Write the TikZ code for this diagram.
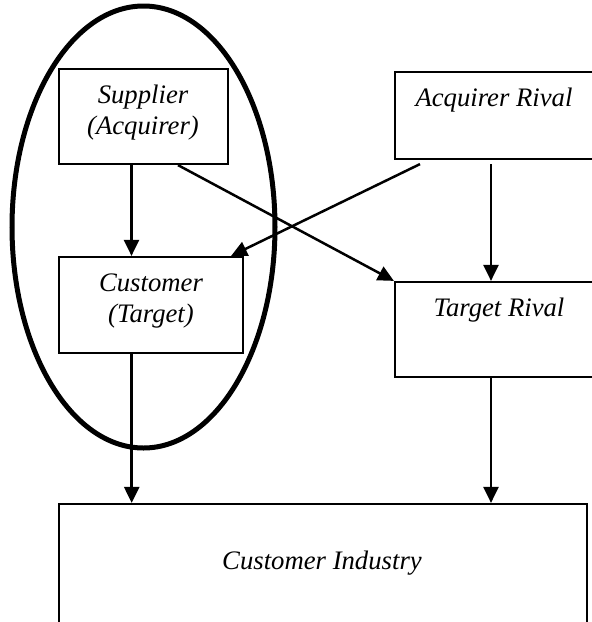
\documentclass[tikz,border=0pt]{standalone}
\usepackage{fontspec}
\setmainfont{Liberation Serif}
\usetikzlibrary{calc}
\usetikzlibrary{arrows.meta}
\tikzset{
    box/.style={draw, line width=2.2pt, inner sep=0pt},
    lbl/.style={font=\fontsize{26.7}{31}\selectfont\itshape, align=center, inner sep=0pt},
    arr/.style={line width=2.5pt, -{Triangle[length=16pt,width=15pt]}}
}
\begin{document}
\begin{tikzpicture}[x=1pt,y=-1pt]
\useasboundingbox (0,0) rectangle (592,622);
% firms and the industry
\foreach \x/\y/\w/\h/\p in {143.5/116.5/169/95/sup, 151/305/184/96/cus, 494.5/115.5/199/87/arv, 494.5/329.5/199/95/trv, 323/572/528/136/ind}{
    \node[box, minimum width=\w pt, minimum height=\h pt] (\p) at (\x,\y) {};
}
\node[lbl] (supT) at (143,112.5) {Supplier\\(Acquirer)};
\node[lbl] (cusT) at (151,301) {Customer\\(Target)};
\node[lbl] (arvT) at (494,100) {Acquirer Rival};
\node[lbl] (trvT) at (499,310) {Target Rival};
\node[lbl] (indT) at (322,563) {Customer Industry};
% merged pair
\draw[line width=5pt] (143.5,227) ellipse [x radius=131.5, y radius=221];
% links
\draw[arr] ([xshift=-12pt]sup.south) -- ([xshift=-12pt]sup.south |- cus.north);
\draw[arr] ([xshift=34.5pt]sup.south) -- (trv.north west);
\draw[arr] ([xshift=-74.5pt,yshift=-4pt]arv.south) -- ([xshift=-13pt]cus.north east);
\draw[arr] ([xshift=-3.5pt,yshift=-4pt]arv.south) -- ([xshift=-3.5pt]arv.south |- trv.north);
\draw[arr] ([xshift=-19.3pt]cus.south) -- ([xshift=-19.3pt]cus.south |- ind.north);
\draw[arr] ([xshift=-3.5pt]trv.south) -- ([xshift=-3.5pt]trv.south |- ind.north);
\end{tikzpicture}
\end{document}
